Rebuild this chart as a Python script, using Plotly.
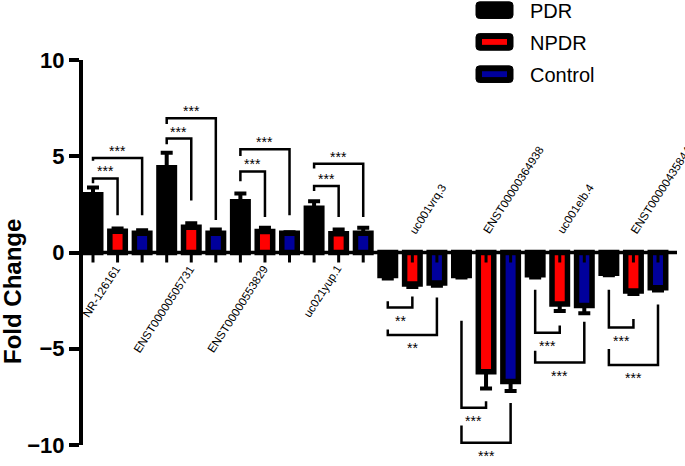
import plotly.graph_objects as go

# ---------------- data ----------------
groups = ["NR-126161", "ENST00000505731", "ENST00000553829", "uc021yup.1",
          "uc001vrq.3", "ENST00000364938", "uc001elb.4", "ENST00000435844"]
series_names = ["PDR", "NPDR", "Control"]
pdr = [3.0, 4.4, 2.63, 2.3, -1.2, -1.2, -1.15, -1.08]
pdr_err = [0.38, 0.78, 0.44, 0.36, 0.15, 0.1, 0.15, 0.1]
npdr = [1.1, 1.31, 1.09, 0.97, -1.63, -6.2, -2.67, -2.0]
npdr_err = [0.15, 0.21, 0.2, 0.22, 0.16, 0.87, 0.37, 0.15]
ctrl = [1.0, 1.0, 1.0, 1.0, -1.58, -6.7, -2.75, -1.83]
ctrl_err = [0.15, 0.2, 0.05, 0.28, 0.15, 0.5, 0.41, 0.15]
y_ticks = [-10, -5, 0, 5, 10]

# significance brackets: (group, compared series index, level, left tip, right tip, label)
brackets = [
    (0, 1, 3.85, 3.60, 1.94, "***"), (0, 2, 4.91, 4.76, 1.94, "***"),
    (1, 1, 5.92, 5.62, 2.70, "***"), (1, 2, 6.98, 6.67, 1.69, "***"),
    (2, 1, 4.21, 3.70, 1.84, "***"), (2, 2, 5.37, 5.01, 1.94, "***"),
    (3, 1, 3.45, 3.20, 1.84, "***"), (3, 2, 4.61, 4.36, 1.84, "***"),
    (4, 1, -2.86, -2.53, -2.28, "**"), (4, 2, -4.29, -4.00, -2.34, "**"),
    (5, 1, -8.07, -3.54, -7.73, "***"), (5, 2, -9.88, -8.99, -7.82, "***"),
    (6, 1, -4.17, -1.94, -3.79, "***"), (6, 2, -5.72, -5.11, -3.60, "***"),
    (7, 1, -3.90, -1.94, -3.45, "***"), (7, 2, -5.85, -5.01, -2.70, "***"),
]

colors = ["#000000", "#ff0000", "#00009c"]
values = [pdr, npdr, ctrl]
errors = [pdr_err, npdr_err, ctrl_err]

W, H = 685, 466
ML, MR, MT, MB = 83, 8, 60, 12
PW, PH = W - ML - MR, H - MT - MB
FONT = "Liberation Sans, Arial, sans-serif"

# x scale: first bar centre at pixel 93, 24.565 px per bar slot
X_UNIT = 24.565
X_FIRST = 93.0
x_range = [(ML - X_FIRST) / X_UNIT, (W - MR - X_FIRST) / X_UNIT]


def px_x(p):
    return (p - ML) / PW


def px_y(p):
    return (H - MB - p) / PH


def rounded_rect(x0, y0, x1, y1, r):
    """pixel rect -> paper-coordinate SVG path with rounded corners"""
    def P(x, y):
        return f"{px_x(x):.5f},{px_y(y):.5f}"
    return (f"M {P(x0 + r, y0)} L {P(x1 - r, y0)} Q {P(x1, y0)} {P(x1, y0 + r)} "
            f"L {P(x1, y1 - r)} Q {P(x1, y1)} {P(x1 - r, y1)} "
            f"L {P(x0 + r, y1)} Q {P(x0, y1)} {P(x0, y1 - r)} "
            f"L {P(x0, y0 + r)} Q {P(x0, y0)} {P(x0 + r, y0)} Z")


fig = go.Figure()
n = len(series_names)
for s in range(n):
    xs = [n * g + s for g in range(len(groups))]
    vals = values[s]
    errs = errors[s]
    plus = [e if v >= 0 else 0 for v, e in zip(vals, errs)]
    minus = [e if v < 0 else 0 for v, e in zip(vals, errs)]
    fig.add_trace(go.Bar(
        x=xs, y=vals, name=series_names[s], width=0.63,
        marker=dict(color=colors[s], line=dict(color="black", width=5.5)),
        error_y=dict(type="data", symmetric=False, array=plus, arrayminus=minus,
                     color="black", thickness=4, width=6),
        showlegend=False,
    ))

shapes = []
annotations = []

# x axis line at zero
shapes.append(dict(type="line", xref="paper", yref="y", x0=0, x1=1, y0=0, y1=0,
                   line=dict(color="black", width=3.5), layer="above"))
# tick marks at each bar
for g in range(len(groups)):
    for s in range(n):
        xi = n * g + s
        shapes.append(dict(type="line", xref="x", yref="y", ysizemode="pixel", yanchor=0,
                           x0=xi, x1=xi, y0=0, y1=-10,
                           line=dict(color="black", width=3), layer="above"))

# category labels
for g, name in enumerate(groups):
    mid = n * g + 1
    positive = values[0][g] > 0
    if positive:
        annotations.append(dict(x=mid, y=0, xref="x", yref="y", text=name, showarrow=False,
                                textangle=-57, xanchor="right", yanchor="top",
                                xshift=8, yshift=-8,
                                font=dict(family=FONT, size=11.5, color="black")))
    else:
        annotations.append(dict(x=mid, y=0, xref="x", yref="y", text=name, showarrow=False,
                                textangle=-57, xanchor="left", yanchor="bottom",
                                xshift=-8, yshift=14,
                                font=dict(family=FONT, size=11.5, color="black")))

# brackets
for g, s, level, lt, rt, lab in brackets:
    x0 = n * g
    x1 = n * g + s
    shapes.append(dict(type="path", xref="x", yref="y",
                       path=f"M {x0},{lt} L {x0},{level} L {x1},{level} L {x1},{rt}",
                       line=dict(color="black", width=2.5)))
    if level > 0:
        annotations.append(dict(x=(x0 + x1) / 2, y=level, xref="x", yref="y", text=lab,
                                showarrow=False, yanchor="bottom", yshift=-3,
                                font=dict(family=FONT, size=14, color="black")))
    else:
        annotations.append(dict(x=(x0 + x1) / 2, y=level, xref="x", yref="y", text=lab,
                                showarrow=False, yanchor="top", yshift=-3,
                                font=dict(family=FONT, size=14, color="black")))

# y axis title
annotations.append(dict(x=px_x(13), y=-2.05, xref="paper", yref="y", text="Fold Change",
                        showarrow=False, textangle=-90, xanchor="center", yanchor="middle",
                        font=dict(family=FONT, size=24, color="black", weight="bold")))

# manual legend
leg_y = [9, 41.5, 74.5]
for i, name in enumerate(series_names):
    cy = leg_y[i]
    shapes.append(dict(type="path", xref="paper", yref="paper",
                       path=rounded_rect(476, cy - 8.5, 513, cy + 8.5, 3.5),
                       fillcolor="black", line=dict(color="black", width=1)))
    if i > 0:
        shapes.append(dict(type="rect", xref="paper", yref="paper",
                           x0=px_x(482), x1=px_x(507), y0=px_y(cy - 3), y1=px_y(cy + 3),
                           fillcolor=colors[i], line=dict(width=0)))
    annotations.append(dict(x=px_x(528), y=px_y(cy + 1), xref="paper", yref="paper",
                            text=name, showarrow=False, xanchor="left", yanchor="middle",
                            font=dict(family=FONT, size=20, color="black")))

fig.update_layout(
    width=W, height=H,
    margin=dict(l=ML, r=MR, t=MT, b=MB),
    paper_bgcolor="white", plot_bgcolor="white",
    barmode="overlay",
    xaxis=dict(range=x_range, visible=False),
    yaxis=dict(range=[-10, 10], showline=True, linecolor="black", linewidth=4,
               ticks="outside", ticklen=10, tickwidth=3.5, tickcolor="black",
               tickvals=y_ticks, showgrid=False, zeroline=False,
               ticklabeloverflow="allow",
               tickfont=dict(family=FONT, size=22, color="black", weight="bold")),
    shapes=shapes, annotations=annotations,
)

fig.write_html("out.html", config={"displayModeBar": False},
               post_script="document.body.style.margin='0';")
